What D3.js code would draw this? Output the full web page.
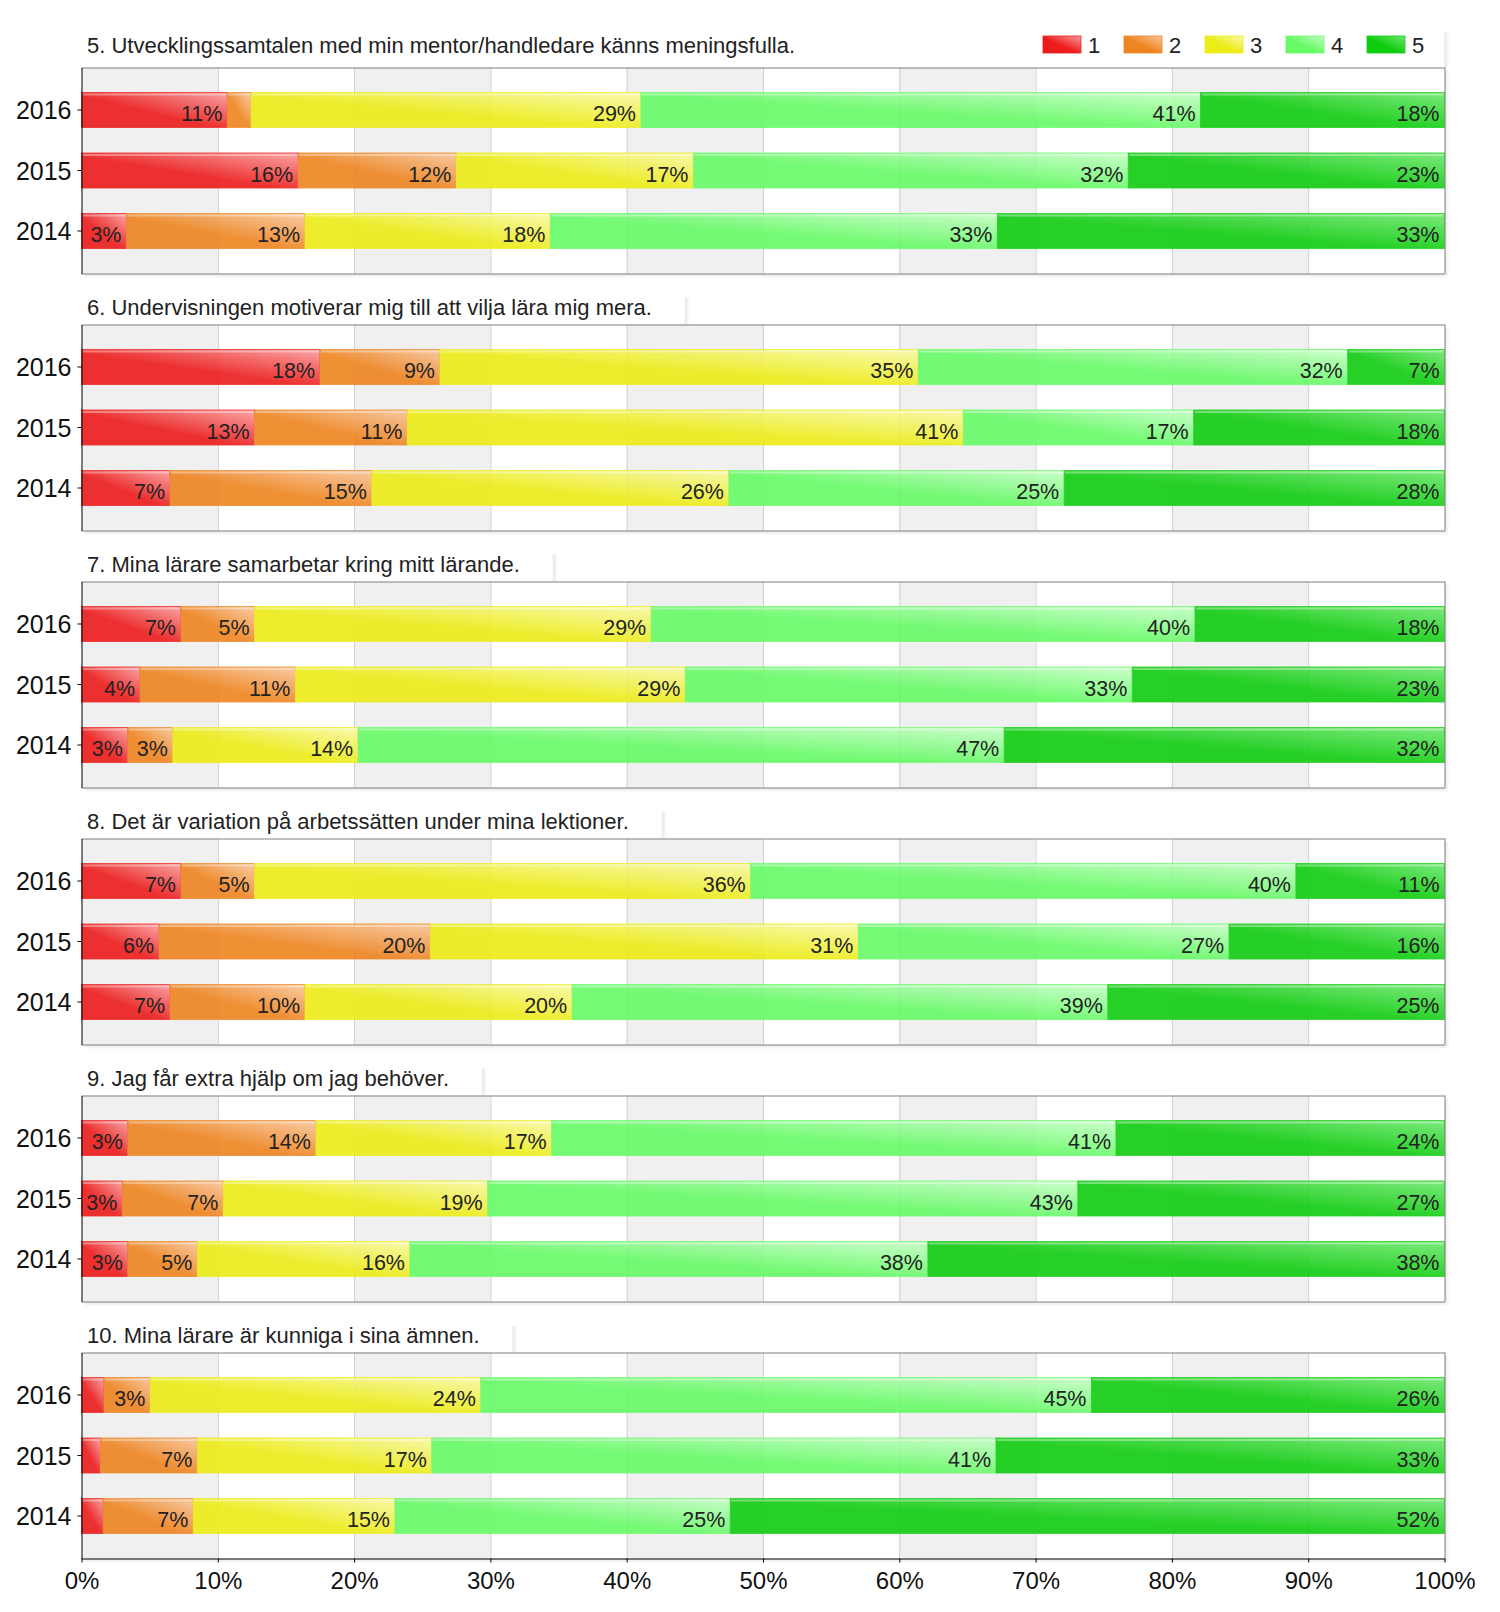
<!DOCTYPE html>
<html><head><meta charset="utf-8">
<script src="https://cdn.jsdelivr.net/npm/d3@7"></script>
<style>
html,body{margin:0;padding:0;background:#fff;}
svg{display:block;font-family:"Liberation Sans",Arial,sans-serif;}
</style></head>
<body>
<svg id="chart" width="1500" height="1612"></svg>
<script>
const titles = [
  "5. Utvecklingssamtalen med min mentor/handledare känns meningsfulla.",
  "6. Undervisningen motiverar mig till att vilja lära mig mera.",
  "7. Mina lärare samarbetar kring mitt lärande.",
  "8. Det är variation på arbetssätten under mina lektioner.",
  "9. Jag får extra hjälp om jag behöver.",
  "10. Mina lärare är kunniga i sina ämnen."
];
const years = ["2016", "2015", "2014"];
const levels = ["1", "2", "3", "4", "5"];
const xTicks = [0, 10, 20, 30, 40, 50, 60, 70, 80, 90, 100];

// percent per level (1..5) for years 2016, 2015, 2014
const q5  = [[10.7, 1.75, 28.6, 41.05, 17.9], [15.9, 11.6, 17.4, 31.9, 23.2], [3.3, 13.1, 18.0, 32.8, 32.8]];
const q6  = [[17.5, 8.8, 35.1, 31.5, 7.1],    [12.7, 11.2, 40.8, 16.9, 18.4], [6.5, 14.8, 26.2, 24.6, 27.9]];
const q7  = [[7.3, 5.4, 29.1, 39.9, 18.3],    [4.3, 11.4, 28.6, 32.8, 22.9],  [3.4, 3.3, 13.6, 47.4, 32.3]];
const q8  = [[7.3, 5.4, 36.4, 40.0, 10.9],    [5.7, 19.9, 31.4, 27.2, 15.8],  [6.5, 9.9, 19.6, 39.3, 24.7]];
const q9  = [[3.4, 13.8, 17.3, 41.4, 24.1],   [3.0, 7.4, 19.4, 43.3, 26.9],   [3.4, 5.1, 15.6, 38.0, 37.9]];
const q10 = [[1.65, 3.4, 24.25, 44.8, 25.9],  [1.4, 7.1, 17.2, 41.4, 32.9],   [1.6, 6.6, 14.8, 24.6, 52.4]];

const baseColors  = ["#ec1c1c", "#ee8420", "#ecec18", "#66fa66", "#10cc10"];
const lightColors = ["#fb9d9d", "#f9c69a", "#f9f9a6", "#c6ffc6", "#6ee86e"];

const panels = [q5, q6, q7, q8, q9, q10];

const svg = d3.select("#chart");
const font = '"Liberation Sans",Arial,sans-serif';
const L = 81.5, R = 1444.5, PH = 206, TOP0 = 67.5, PERIOD = 257;
const x = d3.scaleLinear().domain([0, 100]).range([L, R]);

const defs = svg.append("defs");
levels.forEach((lv, i) => {
  const g = defs.append("linearGradient").attr("id", "grad" + i)
    .attr("x1", 0).attr("y1", 1).attr("x2", 1).attr("y2", 0);
  g.append("stop").attr("offset", "0").attr("stop-color", baseColors[i]);
  g.append("stop").attr("offset", "0.45").attr("stop-color", baseColors[i]);
  g.append("stop").attr("offset", "1").attr("stop-color", lightColors[i]);
});
const shR = defs.append("linearGradient").attr("id", "shadowR").attr("x1", 0).attr("x2", 1).attr("y1", 0).attr("y2", 0);
shR.append("stop").attr("offset", 0).attr("stop-color", "#e6e6e6");
shR.append("stop").attr("offset", 1).attr("stop-color", "#ffffff");
const shB = defs.append("linearGradient").attr("id", "shadowB").attr("x1", 0).attr("x2", 0).attr("y1", 0).attr("y2", 1);
shB.append("stop").attr("offset", 0).attr("stop-color", "#e6e6e6");
shB.append("stop").attr("offset", 1).attr("stop-color", "#ffffff");

panels.forEach((data, pi) => {
  const top = TOP0 + PERIOD * pi;
  const g = svg.append("g");
  const y = d3.scaleBand().domain(years).range([top, top + PH]).paddingInner(0.4215).paddingOuter(0.413);

  // title box with shadow
  const title = g.append("text").attr("x", 87).attr("y", pi === 0 ? top - 14.5 : top - 10)
    .attr("font-size", 22).attr("fill", "#222").attr("font-family", font).text(titles[pi]);
  const tw = title.node().getComputedTextLength();
  const boxRight = pi === 0 ? R : 87 + tw + 33;
  const boxTop = pi === 0 ? top - 37 : top - 29;
  g.insert("rect", "text").attr("x", boxRight).attr("y", boxTop + 2).attr("width", 5).attr("height", top - boxTop - 2)
    .attr("fill", "url(#shadowR)");

  // plot shadow
  g.append("rect").attr("x", R).attr("y", top + 3).attr("width", 5).attr("height", PH).attr("fill", "url(#shadowR)");
  g.append("rect").attr("x", L + 3).attr("y", top + PH).attr("width", R - L).attr("height", 5).attr("fill", "url(#shadowB)");

  // background bands
  g.selectAll("rect.band").data(d3.range(0, 100, 10)).join("rect").attr("class", "band")
    .attr("x", d => x(d)).attr("y", top).attr("width", d => x(d + 10) - x(d)).attr("height", PH)
    .attr("fill", d => (d / 10) % 2 === 0 ? "#f0f0f0" : "#ffffff");
  g.selectAll("line.grid").data(xTicks.slice(1, -1)).join("line").attr("class", "grid")
    .attr("x1", d => x(d) + 0.5).attr("x2", d => x(d) + 0.5).attr("y1", top).attr("y2", top + PH)
    .attr("stroke", "#cfcfcf").attr("stroke-width", 1);

  // bars
  years.forEach((yr, yi) => {
    const vals = data[yi];
    let cum = 0;
    const segs = vals.map((v, li) => { const s = { v, li, x0: cum, x1: cum + v }; cum += v; return s; });
    const bg = g.append("g").attr("opacity", 0.9);
    bg.selectAll("rect.seg").data(segs).join("rect").attr("class", "seg")
      .attr("x", d => x(d.x0)).attr("y", y(yr)).attr("width", d => x(d.x1) - x(d.x0)).attr("height", y.bandwidth())
      .attr("fill", d => `url(#grad${d.li})`)
      .attr("stroke", d => baseColors[d.li]).attr("stroke-opacity", 0.8).attr("stroke-width", 1);
    bg.selectAll("rect.hl").data(segs).join("rect").attr("class", "hl")
      .attr("x", d => x(d.x0) + 1).attr("y", y(yr) + 1).attr("width", d => Math.max(0, x(d.x1) - x(d.x0) - 2)).attr("height", 2)
      .attr("fill", "#ffffff").attr("opacity", 0.35);
    g.selectAll(null).data(segs.filter(d => d.v >= 2.5)).join("text")
      .attr("x", d => x(d.x1) - 5).attr("y", y(yr) + y.bandwidth() / 2 + 11)
      .attr("text-anchor", "end").attr("font-size", 21.5).attr("font-family", font).attr("fill", "#222")
      .text(d => Math.round(d.v) + "%");
  });

  // border
  g.append("line").attr("x1", L).attr("x2", R + 0.5).attr("y1", top + 0.5).attr("y2", top + 0.5).attr("stroke", "#808080");
  g.append("line").attr("x1", R + 0.5).attr("x2", R + 0.5).attr("y1", top).attr("y2", top + PH).attr("stroke", "#808080");
  if (pi < panels.length - 1) {
    g.append("line").attr("x1", L).attr("x2", R + 0.5).attr("y1", top + PH + 0.5).attr("y2", top + PH + 0.5).attr("stroke", "#808080");
  }

  // y axis
  const ya = g.append("g").attr("transform", `translate(${L},0)`)
    .call(d3.axisLeft(y).tickSize(4).tickPadding(6).tickSizeOuter(0));
  ya.select(".domain").attr("stroke", "#000");
  ya.selectAll("text").attr("font-size", 25).attr("font-family", font).attr("fill", "#111").attr("dy", "0.36em");

  if (pi === panels.length - 1) {
    const xa = g.append("g").attr("transform", `translate(0,${top + PH})`)
      .call(d3.axisBottom(x).tickValues(xTicks).tickFormat(d => d + "%").tickSize(4).tickPadding(9).tickSizeOuter(0));
    xa.select(".domain").attr("stroke", "#000");
    xa.selectAll("text").attr("font-size", 24).attr("font-family", font).attr("fill", "#111");
  }
});

// legend
const lg = svg.append("g");
levels.forEach((lv, i) => {
  const lx = 1043 + 81 * i;
  lg.append("rect").attr("x", lx).attr("y", 36).attr("width", 38).attr("height", 17)
    .attr("fill", `url(#grad${i})`).attr("stroke", baseColors[i]).attr("stroke-opacity", 0.8);
  lg.append("text").attr("x", lx + 45).attr("y", 52.5).attr("font-size", 22).attr("font-family", font)
    .attr("fill", "#222").text(lv);
});
</script>
</body></html>
